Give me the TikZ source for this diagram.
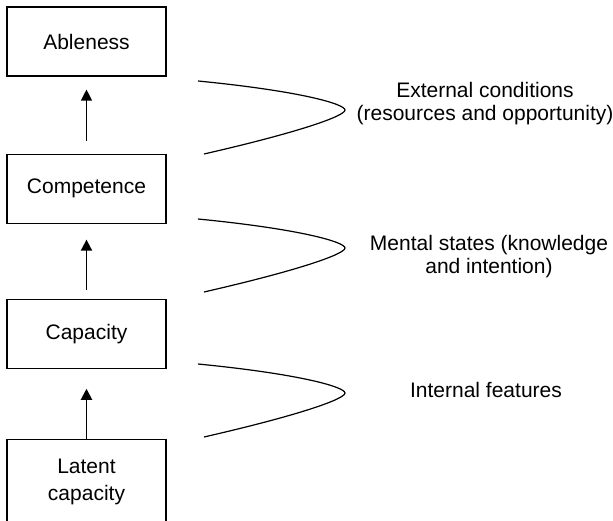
\documentclass[tikz,border=0pt]{standalone}
\usepackage{fontspec}
\setmainfont{Liberation Sans}
\usetikzlibrary{positioning,arrows.meta}

\begin{document}
\begin{tikzpicture}[x=1pt,y=-1pt,
					>={Triangle[length=11pt,width=11pt]},
					%thick,
					every node/.style={font=\fontsize{21}{23}\selectfont},
					box/.style={draw,line width=1.1pt,minimum width=159pt,minimum height=69pt,inner sep=0pt},
					note/.style={align=center},
					bracket/.style={line width=1.2pt}]

  \clip (0,0) rectangle (613,521);

  \node[box] (able) at (86.5,41.5) {Ableness};
  \node[box] (comp) [below=77pt of able] {Competence};
  \node[box] (capa) [below=75pt of comp] {Capacity};
  \node[box,minimum height=86pt,align=center,font=\fontsize{21}{27}\selectfont] (latent) [below=70pt of capa] {Latent\\capacity};

  \draw[->,line width=1.1pt,shorten <=13pt,shorten >=13pt] (comp) -- (able);
  \draw[->,line width=1.9pt,shorten <=9pt,shorten >=16pt] (capa) -- (comp);
  \draw[->,line width=1.9pt,shorten >=20pt] (latent) -- (capa);

  % the three brackets
  \foreach \dy in {0,138,283}
    \draw[bracket,shift={(0,\dy)}] (198,81) .. controls (300,91) and (345,104) .. (345,110)
        .. controls (345,116) and (300,132) .. (204,154);

  \node[note] (ext) at (485,103.5) {External conditions\\(resources and opportunity)};
  \node[note] (mental) at (489,256.5) {Mental states (knowledge\\and intention)};
  \node[note] (intern) at (486,390) {Internal features};
\end{tikzpicture}
\end{document}
